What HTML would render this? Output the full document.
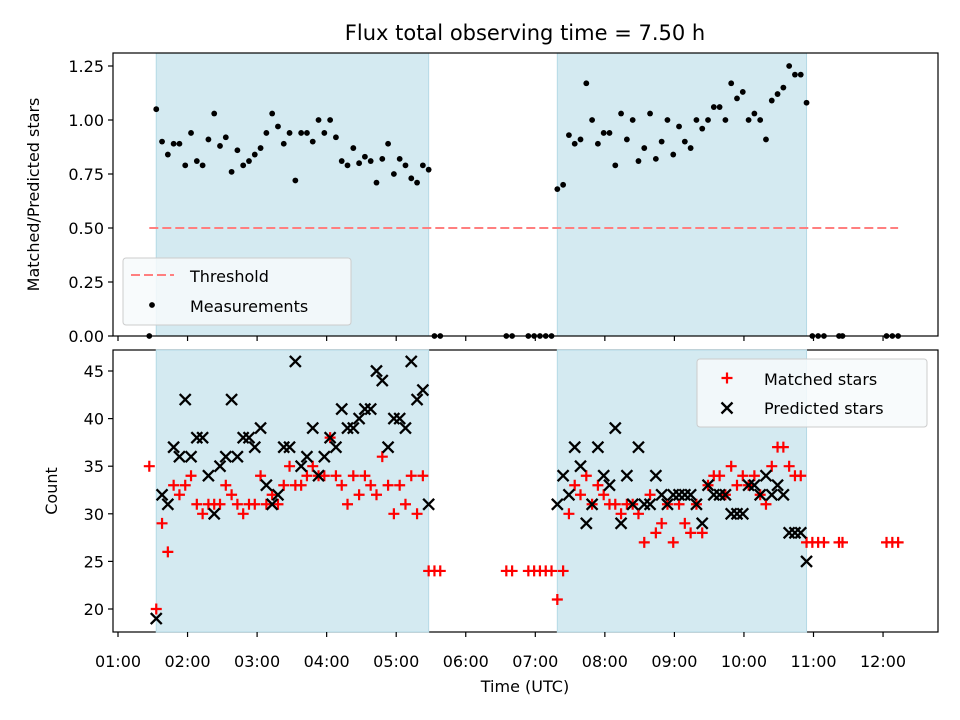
<!DOCTYPE html>
<html><head><meta charset="utf-8"><style>
body{margin:0;background:#fff}
svg{display:block;font-family:"DejaVu Sans","Liberation Sans",sans-serif}
</style></head><body>
<svg id="chart" width="960" height="720" viewBox="0 0 960 720" xmlns="http://www.w3.org/2000/svg">
<text x="525" y="40" font-size="21" text-anchor="middle" fill="#000">Flux total observing time = 7.50 h</text>
<g id="gtop"></g><g id="gbot"></g>
</svg>
<script>
const times = ["01:27","01:33","01:38","01:43","01:48","01:53","01:58","02:03","02:08","02:13","02:18","02:23","02:28","02:33","02:38","02:43","02:48","02:53","02:58","03:03","03:08","03:13","03:18","03:23","03:28","03:33","03:38","03:43","03:48","03:53","03:58","04:03","04:08","04:13","04:18","04:23","04:28","04:33","04:38","04:43","04:48","04:53","04:58","05:03","05:08","05:13","05:18","05:23","05:28","05:33","05:38","06:35","06:40","06:54","06:59","07:04","07:09","07:14","07:19","07:24","07:29","07:34","07:39","07:44","07:49","07:54","07:59","08:04","08:09","08:14","08:19","08:24","08:29","08:34","08:39","08:44","08:49","08:54","08:59","09:04","09:09","09:14","09:19","09:24","09:29","09:34","09:39","09:44","09:49","09:54","09:59","10:04","10:09","10:14","10:19","10:24","10:29","10:34","10:39","10:44","10:49","10:54","10:59","11:04","11:09","11:22","11:25","12:03","12:08","12:13"];
const matched = [35,20,29,26,33,32,33,34,31,30,31,31,31,33,32,31,30,31,31,34,31,32,31,33,35,33,33,34,35,34,34,38,34,33,31,34,32,34,33,32,36,33,30,33,31,34,30,34,24,24,24,24,24,24,24,24,24,24,21,24,30,33,32,34,31,33,32,31,31,30,31,31,30,27,32,28,29,31,27,31,29,28,31,28,33,34,34,32,35,33,34,33,34,32,31,35,37,37,35,34,34,27,27,27,27,27,27,27,27,27];
const predicted = [null,19,32,31,37,36,42,36,38,38,34,30,35,36,42,36,38,38,37,39,33,31,32,37,37,46,35,36,39,34,36,38,37,41,39,39,40,41,41,45,44,37,40,40,39,46,42,43,31,null,null,null,null,null,null,null,null,null,31,34,32,37,35,29,31,37,34,33,39,29,34,31,37,31,31,34,32,31,32,32,32,32,31,29,33,32,32,32,30,30,30,33,33,32,34,32,33,32,28,28,28,25,null,null,null,null,null,null,null,null];
const ratio = [0,1.05,0.90,0.84,0.89,0.89,0.79,0.94,0.81,0.79,0.91,1.03,0.88,0.92,0.76,0.86,0.79,0.81,0.84,0.87,0.94,1.03,0.97,0.89,0.94,0.72,0.94,0.94,0.90,1.00,0.94,1.00,0.92,0.81,0.79,0.87,0.80,0.83,0.81,0.71,0.82,0.89,0.75,0.82,0.79,0.73,0.71,0.79,0.77,0,0,0,0,0,0,0,0,0,0.68,0.70,0.93,0.89,0.91,1.17,1.00,0.89,0.94,0.94,0.79,1.03,0.91,1.00,0.81,0.87,1.03,0.82,0.90,1.00,0.84,0.97,0.90,0.87,1.00,0.96,1.00,1.06,1.06,1.00,1.17,1.10,1.13,1.00,1.03,1.00,0.91,1.09,1.12,1.15,1.25,1.21,1.21,1.08,0,0,0,0,0,0,0,0];
const shadeStart = ["01:33","07:19"];
const shadeEnd = ["05:28","10:54"];
const threshold = 0.5;
const xTickLabels = ["01:00","02:00","03:00","04:00","05:00","06:00","07:00","08:00","09:00","10:00","11:00","12:00"];
const topTicks = [0,0.25,0.5,0.75,1.0,1.25];
const botTicks = [20,25,30,35,40,45];

const NS="http://www.w3.org/2000/svg";
const L=113,R=938,T1=53,B1=336,T2=350,B2=632;
const mins=s=>{const p=s.split(":");return +p[0]*60+ +p[1];};
const X=m=>118+(m-60)*69.55/60;
const Y1=v=>336-v*216;
const Y2=c=>609-(c-20)*9.52;
function el(tag,attrs,parent,txt){const e=document.createElementNS(NS,tag);for(const k in attrs)e.setAttribute(k,attrs[k]);if(txt!=null)e.textContent=txt;parent.appendChild(e);return e;}
const gTop=document.getElementById('gtop'),gBot=document.getElementById('gbot');

function panel(g,T,B,ticks,Yf,fmt,label,name){
  shadeStart.forEach((s,i)=>{
    const r=el('rect',{x:X(mins(s)),y:T,width:X(mins(shadeEnd[i]))-X(mins(s)),height:B-T,fill:'#d4eaf1',stroke:'#b5dae6','stroke-width':1},g);
    
    
  });
  ticks.forEach(t=>{
    const y=Yf(t);
    el('line',{x1:L-5,x2:L,y1:y,y2:y,stroke:'#000','stroke-width':1.2},g);
    const tx=el('text',{x:L-9,y:y+6,'font-size':16,'text-anchor':'end'},g,fmt(t));
    
    
  });
  xTickLabels.forEach(s=>{const x=X(mins(s));el('line',{x1:x,x2:x,y1:B,y2:B+5,stroke:'#000','stroke-width':1.2},g);});
  const yl=el('text',{x:0,y:0,'font-size':16,'text-anchor':'middle',transform:`translate(${name==='top'?39:57},${(T+B)/2}) rotate(-90)`},g,label);
  
  
}
panel(gTop,T1,B1,topTicks,Y1,t=>t.toFixed(2),'Matched/Predicted stars','top');
panel(gBot,T2,B2,botTicks,Y2,t=>String(t),'Count','bottom');

const th=el('line',{x1:X(mins(times[0])),x2:X(mins(times[times.length-1])),y1:Y1(threshold),y2:Y1(threshold),stroke:'#ff7f7f','stroke-width':2,'stroke-dasharray':'9,4'},gTop);


times.forEach((t,i)=>{
  const c=el('circle',{cx:X(mins(t)),cy:Y1(ratio[i]),r:2.9,fill:'#000'},gTop);
  
  
});
times.forEach((t,i)=>{
  const x=X(mins(t)),y=Y2(matched[i]);
  const p=el('path',{d:`M${x-5.5},${y}H${x+5.5}M${x},${y-5.5}V${y+5.5}`,stroke:'#ff0000','stroke-width':2.2,fill:'none'},gBot);
  
  
});
times.forEach((t,i)=>{
  if(predicted[i]==null)return;
  const x=X(mins(t)),y=Y2(predicted[i]);
  const p=el('path',{d:`M${x-5.5},${y-5.5}L${x+5.5},${y+5.5}M${x-5.5},${y+5.5}L${x+5.5},${y-5.5}`,stroke:'#000','stroke-width':2.3,fill:'none'},gBot);
  
  
});
xTickLabels.forEach(s=>{
  const tx=el('text',{x:X(mins(s)),y:667,'font-size':16,'text-anchor':'middle'},gBot,s);
  
  
});
const xl=el('text',{x:525,y:692,'font-size':16,'text-anchor':'middle'},gBot,'Time (UTC)');


[[T1,B1],[T2,B2]].forEach(([T,B])=>el('rect',{x:L,y:T,width:R-L,height:B-T,fill:'none',stroke:'#000','stroke-width':1.2},gTop));
const lg1=el('g',{},gTop);


el('rect',{x:123,y:258,width:228,height:67,rx:3,fill:'#f7fafc','fill-opacity':0.85,stroke:'#ccc'},lg1);
el('line',{x1:131,x2:174,y1:275,y2:275,stroke:'#ff7f7f','stroke-width':2,'stroke-dasharray':'9,4'},lg1);
el('circle',{cx:152,cy:305,r:2.9,fill:'#000'},lg1);
el('text',{x:190,y:282,'font-size':16},lg1,'Threshold');
el('text',{x:190,y:312,'font-size':16},lg1,'Measurements');
const lg2=el('g',{},gBot);


el('rect',{x:697,y:359,width:230,height:68,rx:3,fill:'#f7fafc','fill-opacity':0.85,stroke:'#ccc'},lg2);
el('path',{d:'M721.5,378H732.5M727,372.5V383.5',stroke:'#ff0000','stroke-width':2.2},lg2);
el('path',{d:'M721.5,402.5L732.5,413.5M721.5,413.5L732.5,402.5',stroke:'#000','stroke-width':2.3},lg2);
el('text',{x:764,y:385,'font-size':16},lg2,'Matched stars');
el('text',{x:764,y:414,'font-size':16},lg2,'Predicted stars');
</script>
</body></html>
